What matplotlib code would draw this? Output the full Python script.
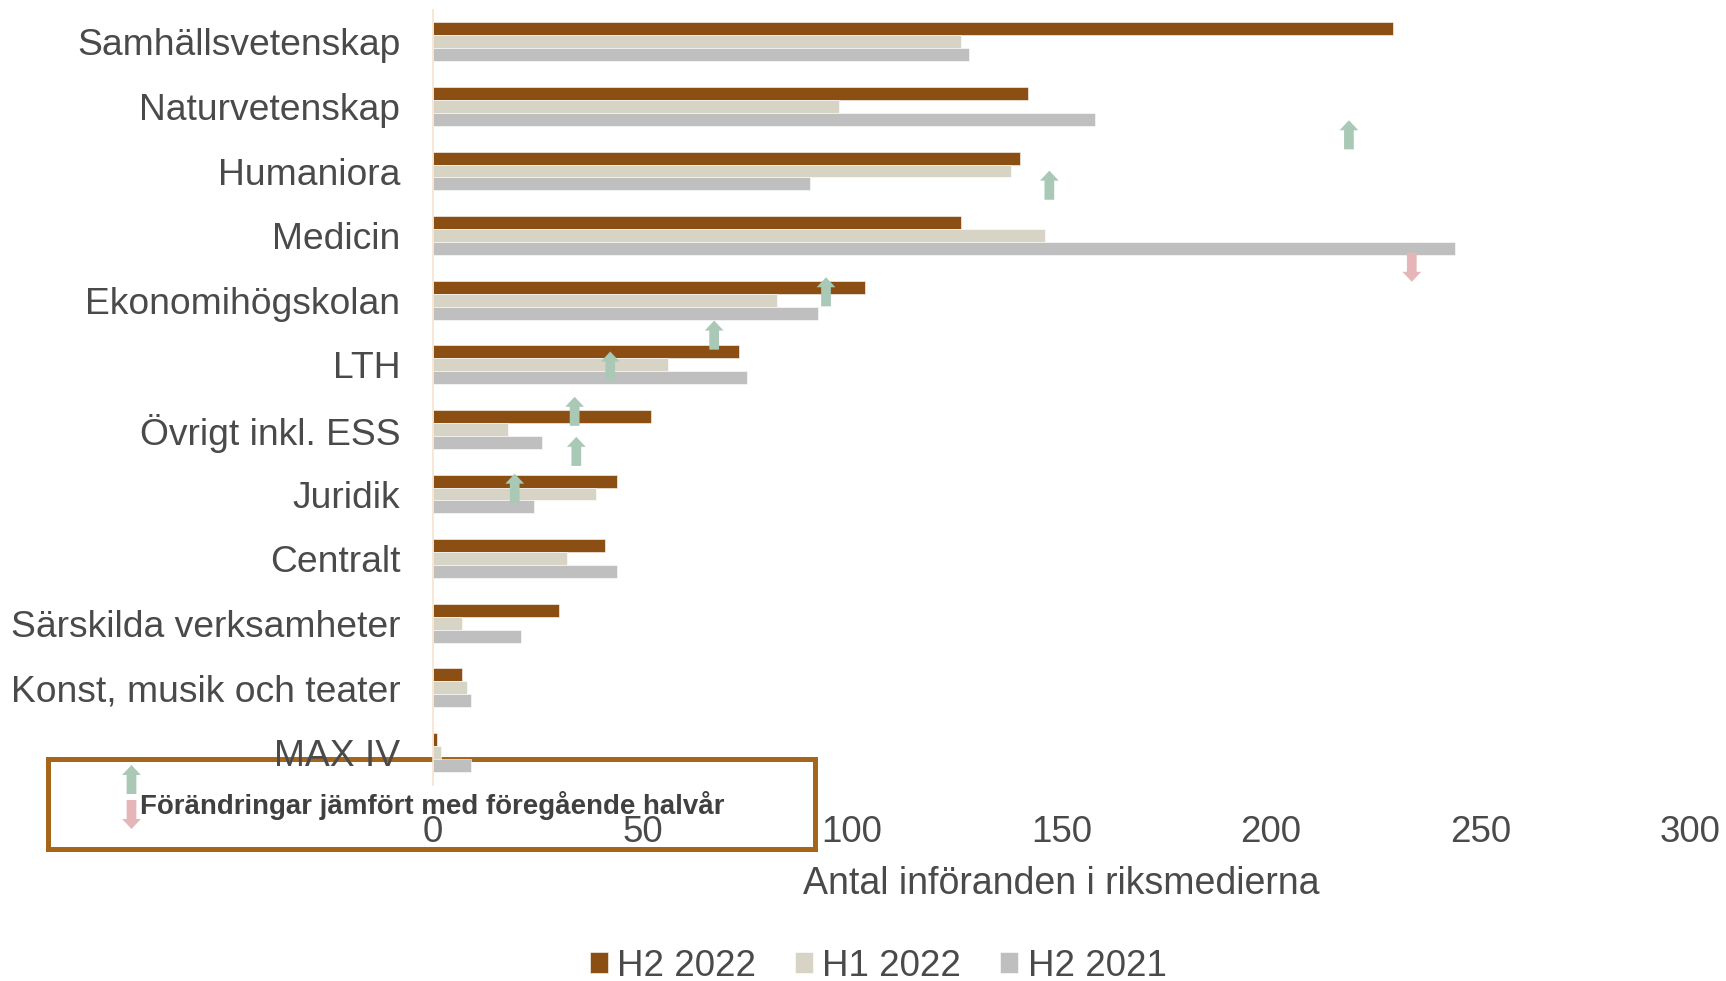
import matplotlib
matplotlib.use("Agg")
import matplotlib.pyplot as plt
from matplotlib.patches import Rectangle
import numpy as np

plt.rcParams['font.family'] = ['Liberation Sans', 'DejaVu Sans']

categories = ["Samhällsvetenskap", "Naturvetenskap", "Humaniora", "Medicin",
              "Ekonomihögskolan", "LTH", "Övrigt inkl. ESS", "Juridik",
              "Centralt", "Särskilda verksamheter", "Konst, musik och teater", "MAX IV"]
h2_2022 = [229, 142, 140, 126, 103, 73, 52, 44, 41, 30, 7, 1]
h1_2022 = [126, 97, 138, 146, 82, 56, 18, 39, 32, 7, 8, 2]
h2_2021 = [128, 158, 90, 244, 92, 75, 26, 24, 44, 21, 9, 9]
series_names = ["H2 2022", "H1 2022", "H2 2021"]
series_colors = ["#8B4F14", "#D8D4C5", "#BFBFBF"]

# floating change arrows (value, category position, direction)
arrow_x = [218.6, 147.1, 233.6, 93.8, 67.1, 42.3, 33.8, 34.2, 19.5]
arrow_y = [1.44, 2.22, 3.49, 3.87, 4.54, 5.02, 5.72, 6.34, 6.91]
arrow_dir = ["up", "up", "down", "up", "up", "up", "up", "up", "up"]
box_text = "Förändringar jämfört med föregående halvår"
xlabel = "Antal införanden i riksmedierna"
xticks = [0, 50, 100, 150, 200, 250, 300]

UP = "#A9C9B6"
DOWN = "#E5B5B8"
TXT = "#4a4a4a"

W, H = 1726, 981
fig = plt.figure(figsize=(W / 100, H / 100), dpi=100)
ax = fig.add_axes([433 / W, 1 - 784.7 / H, (1690 - 433) / W, (784.7 - 9.5) / H])
ax.set_facecolor("none")

y = np.arange(len(categories))
bh = 0.2
for i, (vals, name, col) in enumerate(zip([h2_2022, h1_2022, h2_2021], series_names, series_colors)):
    ax.barh(y + (i - 1) * bh, vals, height=bh, color=col, label=name,
            edgecolor="white", linewidth=0.4, zorder=2)

ax.set_ylim(len(categories) - 0.5, -0.5)
ax.set_xlim(0, 300)
ax.set_yticks(y)
ax.set_yticklabels(categories, fontsize=26.8, color=TXT)
ax.set_xticks(xticks)
ax.set_xticklabels([str(t) for t in xticks], fontsize=26.5, color=TXT)
ax.tick_params(axis="y", length=0, pad=23.5)
ax.tick_params(axis="x", length=0, pad=21.5)
ax.set_xlabel(xlabel, fontsize=27, color=TXT, labelpad=12)
for s in ["top", "right", "bottom"]:
    ax.spines[s].set_visible(False)
ax.spines["left"].set_color("#F6E3CF")
ax.spines["left"].set_linewidth(1.2)

L = 0.225
for xv, yv, d in zip(arrow_x, arrow_y, arrow_dir):
    if d == "up":
        head, tail, c = yv - L, yv + L, UP
    else:
        head, tail, c = yv + L, yv - L, DOWN
    ax.annotate("", xy=(xv, head), xytext=(xv, tail),
                arrowprops=dict(facecolor=c, edgecolor="none", width=7, headwidth=13.5,
                                headlength=7.2, shrink=0), zorder=4)

# legend-like box
rect = Rectangle((47.6, H - 849.3), 815 - 47.6, 849.3 - 759.3, transform=None,
                 fill=False, edgecolor="#A5661C", linewidth=3.6, zorder=-1)
fig.patches.append(rect)
fig.text(139.5 / W, 1 - 814 / H, box_text, fontsize=19.9, fontweight="bold", color="#404040",
         va="baseline", ha="left")
fig.add_artist(plt.Annotation("", xy=(131.5, H - 765), xytext=(131.5, H - 794),
                              xycoords="figure pixels", textcoords="figure pixels",
                              arrowprops=dict(facecolor=UP, edgecolor="none", width=7, headwidth=13.5,
                                              headlength=7.2, shrink=0)))
fig.add_artist(plt.Annotation("", xy=(131.5, H - 829), xytext=(131.5, H - 800),
                              xycoords="figure pixels", textcoords="figure pixels",
                              arrowprops=dict(facecolor=DOWN, edgecolor="none", width=7, headwidth=13.5,
                                              headlength=7.2, shrink=0)))

leg = fig.legend(loc="center", bbox_to_anchor=(878 / W, (H - 966.5) / H), ncol=3, frameon=False,
                 fontsize=26.5, handlelength=0.5, handleheight=0.5, handletextpad=0.25,
                 columnspacing=1.05, borderpad=0, borderaxespad=0)
for t in leg.get_texts():
    t.set_color(TXT)

fig.savefig("out.png", dpi=100)
